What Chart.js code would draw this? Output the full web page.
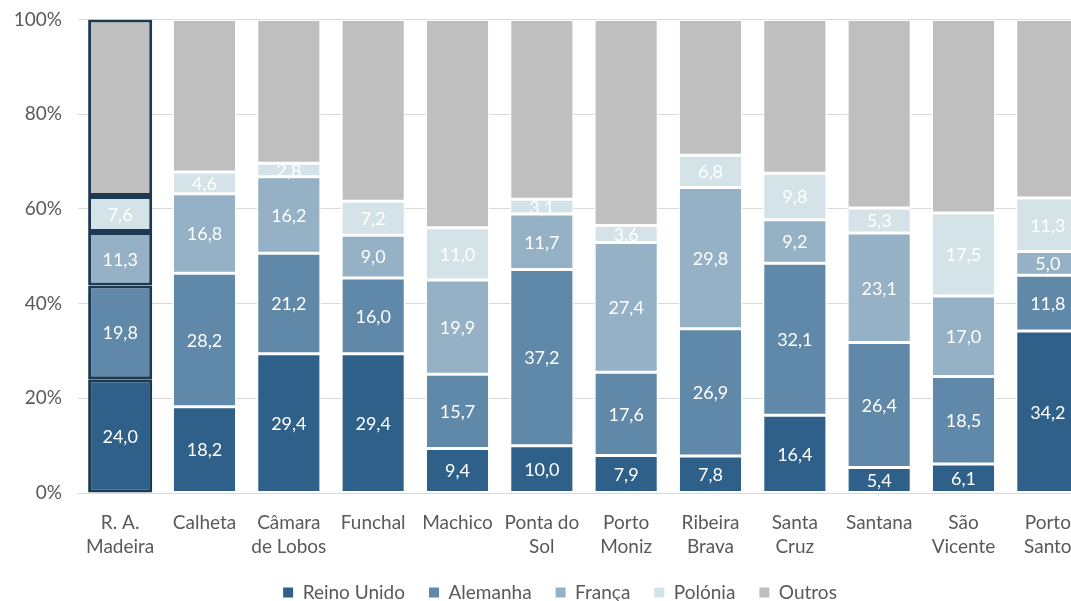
<!DOCTYPE html>
<html>
<head>
<meta charset="utf-8">
<script src="https://cdn.jsdelivr.net/npm/chart.js@4/dist/chart.umd.min.js"></script>
<style>
  html, body { margin: 0; padding: 0; background: #fff; overflow: hidden; }
  #wrap { width: 1120px; height: 620px; margin-top: -8px; }
</style>
</head>
<body>
<div id="wrap"><canvas id="chart" width="1120" height="620"></canvas></div>
<script>
const municipios = [
  ['R. A.', 'Madeira'], 'Calheta', ['Câmara', 'de Lobos'], 'Funchal', 'Machico',
  ['Ponta do', 'Sol'], ['Porto', 'Moniz'], ['Ribeira', 'Brava'], ['Santa', 'Cruz'],
  'Santana', ['São', 'Vicente'], ['Porto', 'Santo']
];

const reinoUnido = [24.0, 18.2, 29.4, 29.4, 9.4, 10.0, 7.9, 7.8, 16.4, 5.4, 6.1, 34.2];
const alemanha   = [19.8, 28.2, 21.2, 16.0, 15.7, 37.2, 17.6, 26.9, 32.1, 26.4, 18.5, 11.8];
const franca     = [11.3, 16.8, 16.2, 9.0, 19.9, 11.7, 27.4, 29.8, 9.2, 23.1, 17.0, 5.0];
const polonia    = [7.6, 4.6, 2.8, 7.2, 11.0, 3.1, 3.6, 6.8, 9.8, 5.3, 17.5, 11.3];
const outros     = [37.3, 32.2, 30.4, 38.4, 44.0, 38.0, 43.5, 28.7, 32.5, 39.8, 40.9, 37.7];

const yTicks = [0, 20, 40, 60, 80, 100];

const fontFamily = 'Lato, "Noto Sans", sans-serif';

// first column (regional total) gets a dark outline
const edgeColor = ctx => ctx.dataIndex === 0 ? '#1B3A52' : '#ffffff';
const edgeWidth = ctx => ctx.dataIndex === 0 ? 3 : 1.5;

function makeSet(label, data, color, showLabels) {
  return {
    label: label,
    data: data,
    backgroundColor: color,
    borderColor: edgeColor,
    borderWidth: edgeWidth,
    borderSkipped: false,
    showLabels: showLabels
  };
}

// simple value labels in the middle of each segment
const segmentLabels = {
  id: 'segmentLabels',
  afterDatasetsDraw(chart) {
    const ctx = chart.ctx;
    ctx.save();
    ctx.font = '18px ' + fontFamily;
    ctx.fillStyle = '#ffffff';
    ctx.textAlign = 'center';
    ctx.textBaseline = 'middle';
    chart.data.datasets.forEach((ds, i) => {
      if (!ds.showLabels) return;
      const meta = chart.getDatasetMeta(i);
      meta.data.forEach((bar, j) => {
        const txt = ds.data[j].toFixed(1).replace('.', ',');
        ctx.fillText(txt, bar.x, (bar.y + bar.base) / 2 + 1);
      });
    });
    ctx.restore();
  }
};

// nudge the legend so it sits centred under the visible part of the chart
const legendShift = {
  id: 'legendShift',
  afterLayout(chart) {
    chart.legend.left += 15;
    chart.legend.right += 15;
  }
};

new Chart(document.getElementById('chart'), {
  type: 'bar',
  data: {
    labels: municipios,
    datasets: [
      makeSet('Reino Unido', reinoUnido, '#2E6089', true),
      makeSet('Alemanha', alemanha, '#6088A8', true),
      makeSet('França', franca, '#94B1C5', true),
      makeSet('Polónia', polonia, '#D3E3E8', true),
      makeSet('Outros', outros, '#BFBFBF', false)
    ]
  },
  options: {
    responsive: false,
    animation: false,
    categoryPercentage: 1,
    barPercentage: 0.76,
    layout: { padding: { top: 0, right: 30, left: 0, bottom: 0 } },
    plugins: {
      tooltip: { enabled: false },
      legend: {
        position: 'bottom',
        labels: {
          boxWidth: 10,
          boxHeight: 10,
          padding: 24,
          color: '#595959',
          font: { family: fontFamily, size: 19 },
          generateLabels: chart => chart.data.datasets.map((ds, i) => ({
            text: ds.label,
            fillStyle: ds.backgroundColor,
            strokeStyle: ds.backgroundColor,
            lineWidth: 0,
            fontColor: '#595959',
            datasetIndex: i
          }))
        }
      }
    },
    scales: {
      x: {
        stacked: true,
        grid: { display: false },
        border: { color: '#D9D9D9', width: 1 },
        afterFit: axis => { axis.height = 66; },
        ticks: {
          color: '#595959',
          maxRotation: 0,
          autoSkip: false,
          padding: 10,
          font: { family: fontFamily, size: 19, lineHeight: 1.25 }
        }
      },
      y: {
        stacked: true,
        min: 0,
        max: 100,
        afterBuildTicks: axis => { axis.ticks = yTicks.map(v => ({ value: v })); },
        afterFit: axis => { axis.width = 78; },
        grid: { color: '#D9D9D9', drawTicks: false },
        border: { display: false },
        ticks: {
          color: '#595959',
          padding: 16,
          font: { family: fontFamily, size: 19 },
          callback: v => v + '%'
        }
      }
    }
  },
  plugins: [segmentLabels, legendShift]
});
</script>
</body>
</html>
